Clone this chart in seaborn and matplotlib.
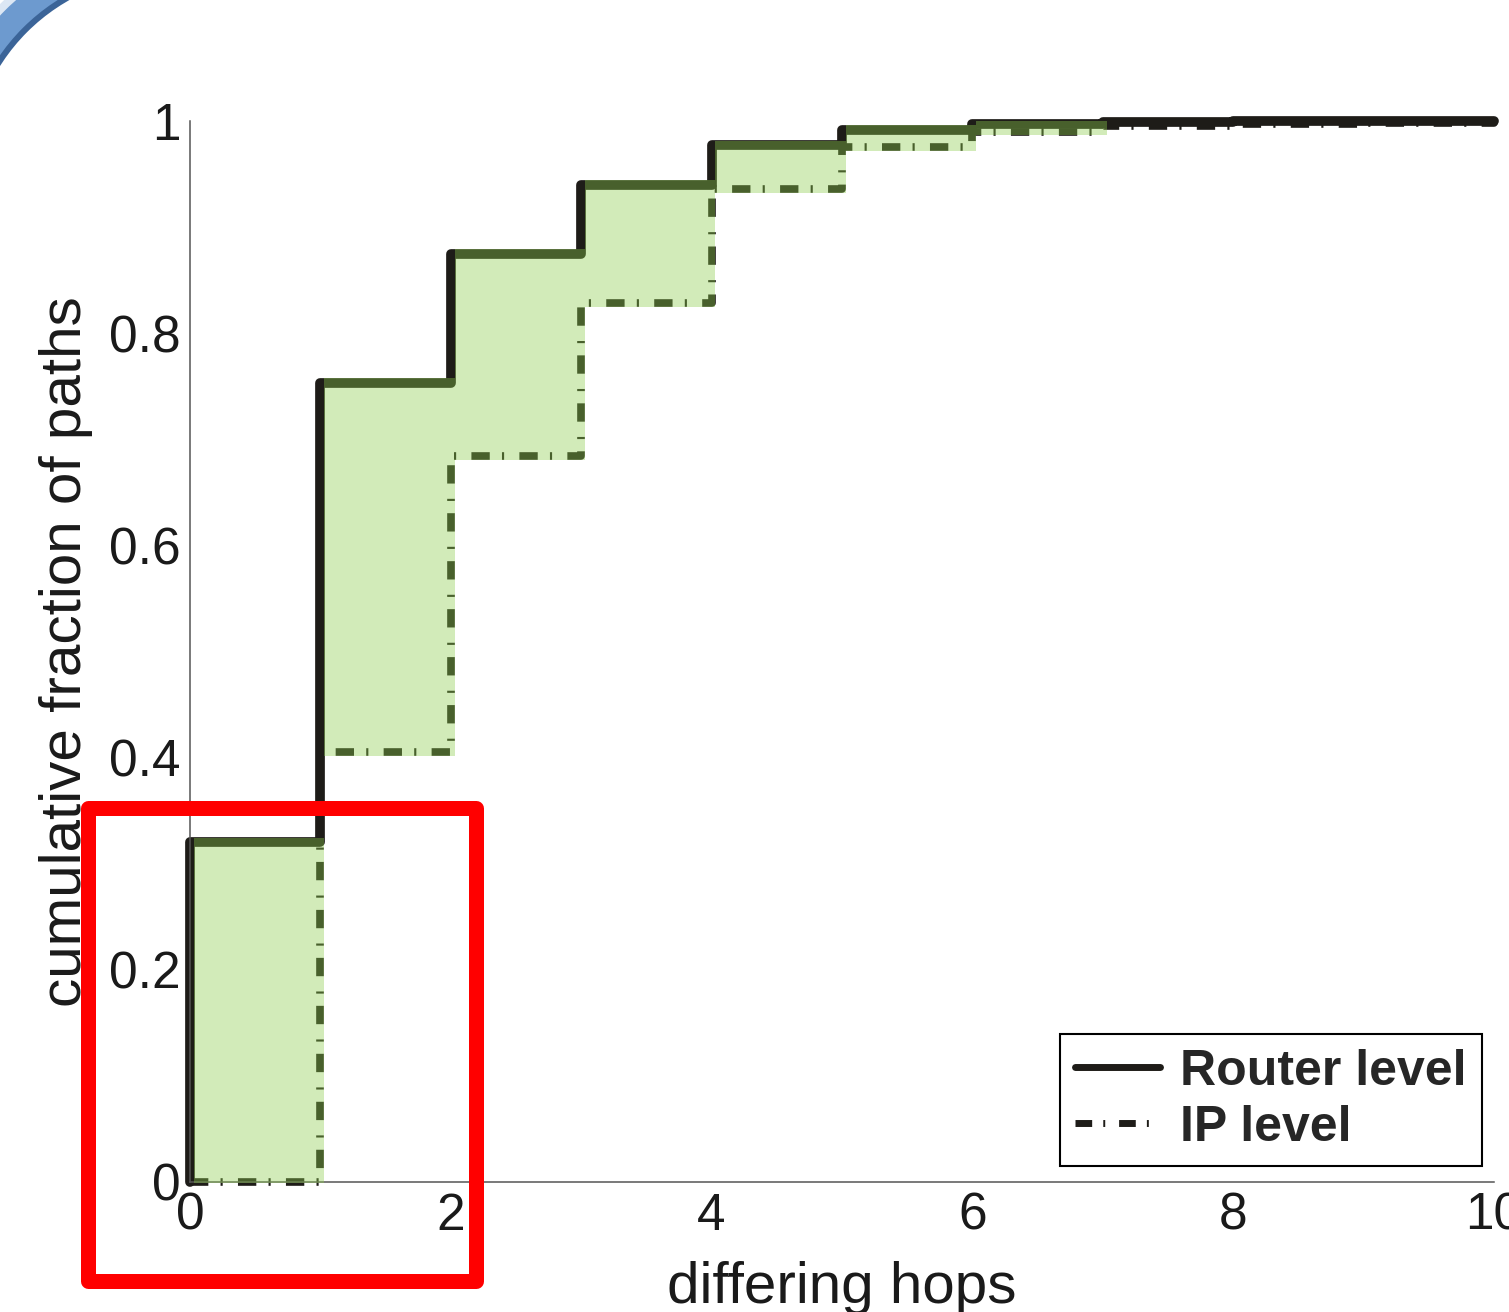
import numpy as np
import pandas as pd
import matplotlib.pyplot as plt
import matplotlib.transforms as mtransforms
import seaborn as sns
from matplotlib.patches import Wedge, Rectangle

# values (cumulative fraction at each hop count)
hops = [0, 1, 2, 3, 4, 5, 6, 7, 8, 9, 10]
router_cdf = [0.32, 0.753, 0.875, 0.94, 0.977, 0.9915, 0.997, 0.999, 1.0, 1.0, 1.0]
ip_cdf = [0.0, 0.405, 0.684, 0.828, 0.936, 0.9755, 0.99, 0.995, 0.997, 0.998, 0.999]
shade_last_hop = 7  # green band between the curves stops here

x_ticks = [0, 2, 4, 6, 8, 10]
y_ticks = [0, 0.2, 0.4, 0.6, 0.8, 1]
y_ticklabels = ['0', '0.2', '0.4', '0.6', '0.8', '1']

# both curves start from (0, 0) so the first riser is drawn
df = pd.DataFrame({
    'hops': [0] + hops,
    'router': [0.0] + router_cdf,
    'ip': [0.0] + ip_cdf,
})

sns.set_style('white')
plt.rcParams['font.family'] = ['Liberation Sans', 'DejaVu Sans']

DPI = 100
fig = plt.figure(figsize=(15.09, 13.12), dpi=DPI)
ax_box = [0.1259, 0.0991, 0.8641, 0.8087]
ax = fig.add_axes(ax_box)

router_lw = 7.0
ip_lw = 5.5
sns.lineplot(data=df, x='hops', y='router', ax=ax, color='#1e1c18', lw=router_lw,
             drawstyle='steps-post', estimator=None, sort=False,
             label='Router level', clip_on=False, zorder=2)
sns.lineplot(data=df, x='hops', y='ip', ax=ax, color='#1e1c18', lw=ip_lw,
             drawstyle='steps-post', estimator=None, sort=False,
             linestyle=(0, (2.4, 1.6, 0.28, 2.0)),
             label='IP level', clip_on=False, zorder=2)

# the shaded band sits on top of the lines and reaches over their widths
ax_h_px = ax_box[3] * 13.12 * DPI
r_half = router_lw * DPI / 72 / 2
i_half = ip_lw * DPI / 72 / 2
n = shade_last_hop + 1
upper = np.array(router_cdf[:n]) + r_half / ax_h_px
lower = np.array(ip_cdf[:n]) - i_half / ax_h_px
shift = mtransforms.ScaledTranslation(i_half / DPI, 0, fig.dpi_scale_trans)
ax.fill_between(hops[:n], lower, upper, step='post',
                color=(140/255, 204/255, 76/255), alpha=0.39, lw=0, zorder=3,
                transform=ax.transData + shift)

ax.set_xlim(0, 10)
ax.set_ylim(0, 1)
ax.set_xticks(x_ticks)
ax.set_xticklabels([str(t) for t in x_ticks])
ax.set_yticks(y_ticks)
ax.set_yticklabels(y_ticklabels)
ax.tick_params(direction='in', length=9, width=1, color='#555555',
               labelsize=37, pad=7, labelcolor='#1a1a1a')
sns.despine(ax=ax)
for side in ['left', 'bottom']:
    ax.spines[side].set_color('#555555')
    ax.spines[side].set_linewidth(1.1)

ax.set_xlabel('differing hops', fontsize=42, color='#1a1a1a')
ax.set_ylabel('cumulative fraction of paths', fontsize=42, color='#1a1a1a')
ax.xaxis.set_label_coords(0.5, -0.0746)
ax.yaxis.set_label_coords(-0.0744, 0.5)

leg = ax.legend(loc='lower right', bbox_to_anchor=(0.9908, 0.0151),
                borderaxespad=0, frameon=True, fancybox=False,
                handlelength=1.7, handletextpad=0.4, borderpad=0.3,
                labelspacing=0.2,
                prop={'family': ['Liberation Sans Narrow', 'Liberation Sans'],
                      'weight': 'bold', 'size': 36})
leg.get_frame().set_edgecolor('black')
leg.get_frame().set_linewidth(1.5)
leg.get_frame().set_alpha(1)
for h in leg.get_lines():
    h.set_linewidth(5.0)

# overlay in pixel units for the slide decoration and the red highlight box
over = fig.add_axes([0, 0, 1, 1], zorder=5)
over.set_xlim(0, 1509)
over.set_ylim(1312, 0)
over.axis('off')
over.patch.set_alpha(0)

# rounded corner of the slide frame, only the top-left quarter shows
corner = (165, 170)
over.add_patch(Wedge(corner, 234, 180, 270, width=8, color='#dce7f4', lw=0))
over.add_patch(Wedge(corner, 226, 180, 270, width=26, color='#6d9acf', lw=0))
over.add_patch(Wedge(corner, 201, 180, 270, width=6, color='#3b6498', lw=0))

over.add_patch(Rectangle((88, 808), 388, 473, fill=False, ec='#ff0000',
                         lw=10.8, joinstyle='round'))

fig.savefig('out.png', dpi=DPI)
